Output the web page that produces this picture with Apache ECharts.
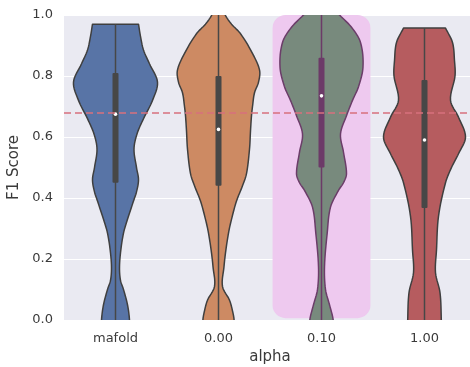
<!DOCTYPE html>
<html>
<head>
<meta charset="utf-8">
<script src="https://cdn.jsdelivr.net/npm/echarts@6/dist/echarts.min.js"></script>
<style>html,body{margin:0;padding:0;background:#fff}#c{width:470px;height:367px}</style>
</head>
<body>
<div id="c"></div>
<script>
// ---- data ----
const categories = ['mafold', '0.00', '0.10', '1.00'];
const yTicks = [0.0, 0.2, 0.4, 0.6, 0.8, 1.0];
const referenceLine = 0.675;
const highlightIndex = 2;

// violin density profiles: [F1 value, density (half width)]
const violinMafold = [
  [0.00,14],[0.05,12],[0.10,8],[0.13,5],[0.17,4],[0.22,5],[0.285,8],[0.33,12],[0.39,18],
  [0.42,21],[0.46,23],[0.50,21],[0.56,18.5],[0.61,21.5],[0.66,28],[0.72,37],[0.78,42],
  [0.84,34],[0.885,28],[0.93,25],[0.97,23]
];
const violin000 = [
  [0.00,15.6],[0.03,14],[0.065,11],[0.11,4],[0.175,5.5],[0.22,7],[0.285,10],[0.33,13],
  [0.39,18],[0.44,24],[0.48,28],[0.56,31],[0.62,32],[0.67,33],[0.70,34],[0.745,36],
  [0.78,40],[0.82,41],[0.88,33],[0.94,21.7],[0.97,13],[1.00,6.7],[1.03,3]
];
const violin010 = [
  [0.00,11.7],[0.05,8],[0.10,4],[0.175,3],[0.285,5.7],[0.37,9],[0.425,17],[0.45,22],
  [0.48,25],[0.55,22],[0.61,19],[0.67,25],[0.72,31],[0.765,37],[0.83,41.5],[0.91,39],
  [0.96,30],[1.00,18],[1.03,10]
];
const violin100 = [
  [0.00,16.8],[0.09,15.5],[0.155,11],[0.23,12],[0.34,14],[0.45,21],[0.50,27],[0.545,34],
  [0.60,41],[0.665,34],[0.72,26],[0.80,30.5],[0.85,30],[0.91,28],[0.957,21]
];
const violins = [violinMafold, violin000, violin010, violin100];

// box stats: [q1, median, q3]
const boxStats = [
  [0.45, 0.675, 0.81],
  [0.44, 0.625, 0.80],
  [0.50, 0.735, 0.86],
  [0.367, 0.59, 0.787]
];

// ---- styles ----
const fillColors = ['#5874a6', '#cd8a63', '#788a7d', '#b65c5f'];
const edgeColors = ['#3f3f3f', '#3f3f3f', '#6b3d69', '#3f3f3f'];
const boxColors  = ['#474747', '#474747', '#6c3a68', '#474747'];
const DENSITY_PX_BAND = 103;

const chart = echarts.init(document.getElementById('c'));

// smooth outline: cubic Hermite of half-width as a function of pixel y
function smoothSide(ys, ws, steps) {
  const n = ys.length, out = [];
  const m = ys.map((y, j) => {
    if (j === 0) return (ws[1] - ws[0]) / (ys[1] - ys[0]);
    if (j === n - 1) return (ws[n - 1] - ws[n - 2]) / (ys[n - 1] - ys[n - 2]);
    return (ws[j + 1] - ws[j - 1]) / (ys[j + 1] - ys[j - 1]);
  });
  for (let j = 0; j < n - 1; j++) {
    const h = ys[j + 1] - ys[j];
    for (let s = 0; s < steps; s++) {
      const t = s / steps, t2 = t * t, t3 = t2 * t;
      const w = (2*t3 - 3*t2 + 1) * ws[j] + (t3 - 2*t2 + t) * h * m[j]
              + (-2*t3 + 3*t2) * ws[j + 1] + (t3 - t2) * h * m[j + 1];
      out.push([ys[j] + t * h, Math.max(w, 0.5)]);
    }
  }
  out.push([ys[n - 1], ws[n - 1]]);
  return out;
}

function renderViolin(params, api) {
  const i = api.value(0);
  const prof = violins[i];
  const band = api.size([1, 0])[0];
  const k = band / DENSITY_PX_BAND;
  const cx = api.coord([i, 0])[0];
  const ext = prof.slice();
  ext.unshift([prof[0][0] - 0.04, prof[0][1]]);
  const ys = ext.map(p => api.coord([i, p[0]])[1]);
  const ws = ext.map(p => p[1] * k);
  const side = smoothSide(ys, ws, 8);
  const pts = [];
  side.forEach(p => pts.push([cx + p[1], p[0]]));
  for (let j = side.length - 1; j >= 0; j--) pts.push([cx - side[j][1], side[j][0]]);
  const st = boxStats[i];
  const yTop = ys[ys.length - 1];
  const yBot = ys[0];
  const yq1 = api.coord([i, st[0]])[1];
  const yq3 = api.coord([i, st[2]])[1];
  const ym = api.coord([i, st[1]])[1];
  return {
    type: 'group',
    children: [
      { type: 'polygon', shape: { points: pts },
        style: { fill: fillColors[i], stroke: edgeColors[i], lineWidth: 1.5, lineJoin: 'round' } },
      { type: 'line', shape: { x1: cx, y1: yTop, x2: cx, y2: yBot },
        style: { stroke: boxColors[i], lineWidth: 1.5 } },
      { type: 'rect', shape: { x: cx - 3, y: yq3, width: 6, height: yq1 - yq3, r: 1 },
        style: { fill: boxColors[i] } },
      { type: 'circle', shape: { cx: cx, cy: ym, r: 1.8 },
        style: { fill: '#ffffff' } }
    ]
  };
}

function renderHighlight(params, api) {
  const i = api.value(0);
  const band = api.size([1, 0])[0];
  const cx = api.coord([i, 0])[0];
  const yTop = api.coord([i, 1.0])[1];
  const yBot = api.coord([i, 0.006])[1];
  return {
    type: 'rect',
    shape: { x: cx - 0.475 * band, y: yTop, width: 0.95 * band, height: yBot - yTop, r: 13 },
    style: { fill: '#eec9ef' }
  };
}

const labelFont = { fontFamily: 'DejaVu Sans', fontSize: 13, color: '#3a3a3a' };

chart.setOption({
  animation: false,
  grid: { left: 64, top: 15, width: 412, height: 305, show: true,
          outerBoundsMode: 'none', containLabel: false,
          backgroundColor: '#eaeaf2', borderWidth: 0 },
  xAxis: {
    type: 'category', data: categories,
    axisLine: { show: false }, axisTick: { show: false },
    axisLabel: Object.assign({ margin: 12 }, labelFont),
    splitLine: { show: false },
    name: 'alpha', nameLocation: 'middle', nameGap: 30,
    nameTextStyle: { fontFamily: 'DejaVu Sans', fontSize: 15, color: '#3a3a3a' }
  },
  yAxis: {
    type: 'value', min: 0, max: 1, interval: 0.2,
    axisLine: { show: false }, axisTick: { show: false },
    axisLabel: Object.assign({ margin: 11, formatter: v => v.toFixed(1) }, labelFont),
    splitLine: { show: true, lineStyle: { color: '#ffffff', width: 1.2 } },
    name: 'F1 Score', nameLocation: 'middle', nameGap: 35,
    nameTextStyle: { fontFamily: 'DejaVu Sans', fontSize: 15, color: '#3a3a3a' }
  },
  series: [
    { type: 'custom', z: 1, clip: true, renderItem: renderHighlight,
      data: [[highlightIndex]], silent: true },
    { type: 'custom', z: 2, clip: true, renderItem: renderViolin,
      data: categories.map((c, i) => [i]), silent: true },
    { type: 'line', z: 5, data: [], silent: true,
      markLine: { symbol: 'none', silent: true, label: { show: false },
        lineStyle: { color: '#d8707d', type: [7, 4], width: 1.6 },
        data: [{ yAxis: referenceLine }] } }
  ]
});
</script>
</body>
</html>
